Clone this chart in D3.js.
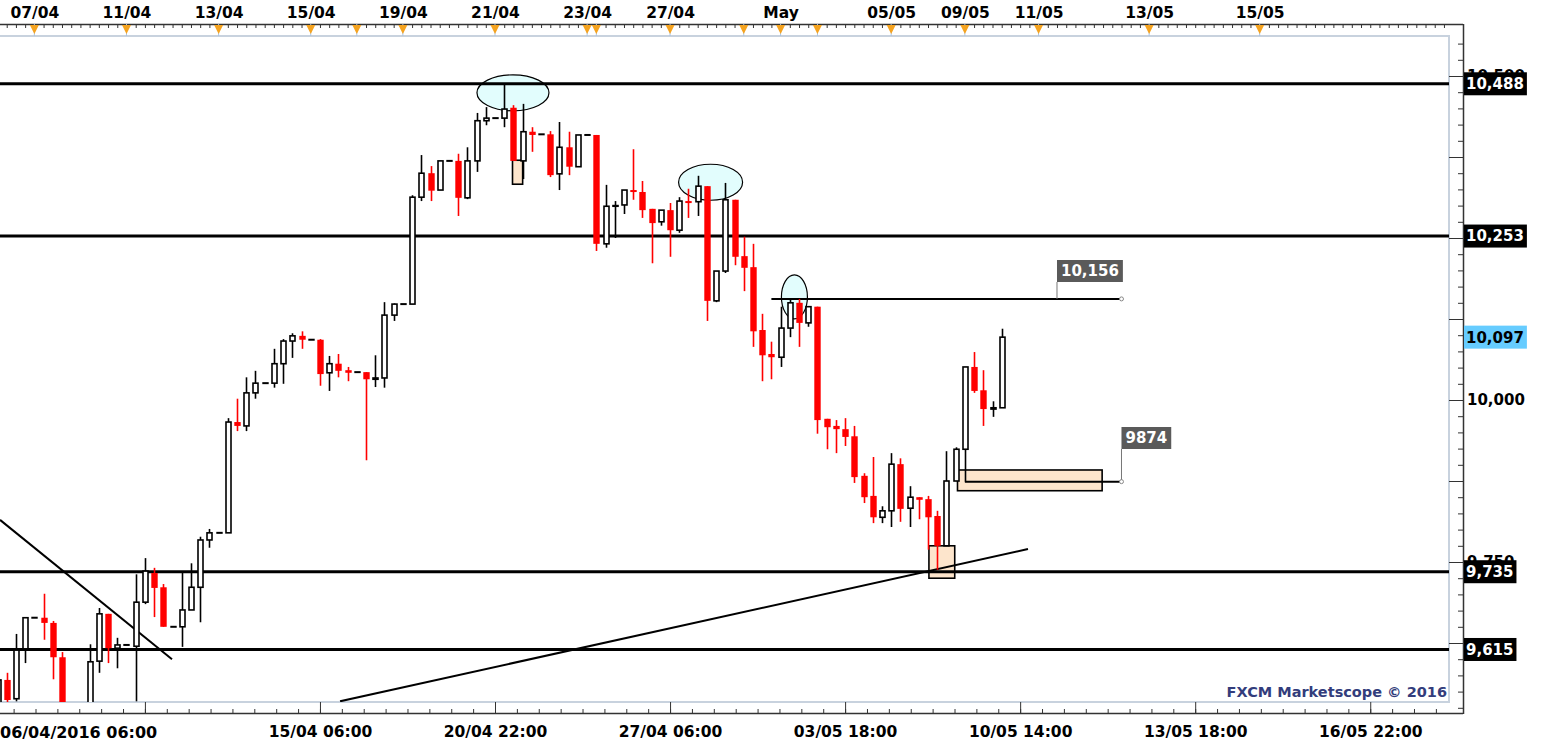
<!DOCTYPE html>
<html><head><meta charset="utf-8">
<script src="https://cdn.jsdelivr.net/npm/d3@7"></script>
<style>body{margin:0;background:#fff;overflow:hidden}svg{display:block}</style>
</head><body><svg id="c" width="1545" height="747"></svg>
<script>
// ---- data (candle index, OHLC) ----
const opens  = [9515,9568,9539,9616,9664,9664,9656,9603,9520,9500,9515,9597,9670,9617,9622,9620,9688,9733,9711,9650,9650,9676,9711,9784,9795,9795,9966,9960,10011,10026,10026,10056,10091,10099,10093,10093,10042,10056,10046,10043,10043,10032,10034,10131,10148,10148,10313,10350,10324,10369,10369,10312,10369,10431,10435,10435,10451,10369,10414,10410,10410,10349,10390,10360,10409,10409,10241,10299,10301,10324,10321,10295,10275,10293,10262,10307,10306,10330,10153,10199,10309,10222,10205,10108,10071,10066,10111,10150,10119,10144,9971,9960,9955,9944,9883,9852,9819,9829,9901,9833,9850,9847,9821,9775,9875,9924,10051,10015,9986,9988];
const highs  = [9570,9579,9639,9664,9664,9701,9659,9611,9530,9525,9623,9679,9670,9633,9622,9731,9756,9741,9716,9650,9733,9748,9789,9801,9795,9972,10002,10035,10045,10026,10079,10094,10103,10106,10093,10094,10068,10071,10051,10043,10043,10069,10151,10149,10148,10316,10378,10361,10369,10369,10380,10390,10443,10452,10435,10488,10455,10457,10421,10410,10415,10429,10414,10409,10409,10409,10332,10307,10324,10387,10338,10295,10293,10304,10313,10326,10346,10330,10199,10335,10309,10252,10241,10133,10090,10144,10156,10156,10144,10144,9971,9969,9972,9960,9887,9912,9836,9918,9910,9867,9850,9852,9829,9921,9927,10051,10074,10046,9998,10110];
const lows   = [9505,9534,9535,9594,9664,9630,9569,9505,9480,9470,9508,9579,9594,9586,9622,9535,9685,9665,9650,9650,9619,9676,9657,9772,9795,9795,9952,9952,10002,10026,10019,10025,10065,10079,10093,10022,10014,10035,10029,10043,9907,10020,10019,10122,10148,10148,10307,10307,10324,10369,10284,10310,10352,10424,10435,10421,10369,10341,10383,10410,10344,10324,10347,10360,10409,10230,10235,10250,10287,10309,10281,10211,10269,10221,10258,10281,10284,10122,10151,10196,10208,10168,10082,10029,10032,10051,10097,10082,10113,9948,9924,9918,9929,9872,9841,9810,9810,9804,9812,9804,9816,9769,9738,9775,9875,9874,10011,9960,9974,9988];
const closes = [9568,9537,9614,9664,9664,9656,9603,9520,9500,9515,9596,9670,9617,9622,9622,9688,9736,9710,9650,9650,9676,9711,9784,9795,9795,9966,9960,10011,10026,10026,10056,10091,10099,10093,10093,10040,10056,10045,10042,10043,10032,10034,10131,10148,10148,10313,10350,10323,10369,10369,10312,10369,10431,10435,10435,10449,10369,10414,10409,10410,10347,10390,10360,10409,10409,10241,10299,10300,10324,10321,10293,10273,10293,10262,10307,10306,10330,10153,10199,10309,10221,10204,10106,10069,10066,10111,10150,10119,10144,9969,9958,9955,9943,9881,9850,9819,9829,9901,9832,9850,9846,9819,9775,9875,9924,10051,10014,9986,9988,10097];

const levels = [10488,10253,9735,9615];
const lastPrice = 10097;

const topTickIdx    = [4,14,24,34,39,44,54,64,65,73,81,85,89,97,105,113,125,137];
const topLabelIdx   = [4,14,24,34,44,54,64,73,85,97,105,113,125,137];
const topLabels     = ["07/04","11/04","13/04","15/04","19/04","21/04","23/04","27/04","May","05/05","09/05","11/05","13/05","15/05"];
const bottomLabelIdx= [35,54,73,92,111,130,149];
const bottomLabels  = ["15/04 06:00","20/04 22:00","27/04 06:00","03/05 18:00","10/05 14:00","13/05 18:00","16/05 22:00"];
const firstBottomLabel = "06/04/2016 06:00";
const yLabelValues  = [9750,10000,10250,10500];

// annotations (index / price space)
const ellipses = [{i:55.95,v:10474,rx:36,ry:18},{i:77.4,v:10336,rx:32,ry:18},{i:86.5,v:10159,rx:13,ry:22}];
const zones = [{i0:55.9,i1:57.0,v0:10370,v1:10333},{i0:101.1,i1:103.9,v0:9775,v1:9725},{i0:104.2,i1:119.9,v0:9892,v1:9860}];
const trendLines = [{i0:0.27,v0:9815,i1:18.94,v1:9600},{i0:37.18,v0:9535,i1:111.85,v1:9770}];
const markLines = [{v:10156,i0:84,i1:122,tagI:115,label:"10,156",boxTop:260},{v:9874,i0:105,i1:122,tagI:122,label:"9874",boxTop:427}];

// ---- scales ----
const svg = d3.select("#c");
const P = {l:0, r:1449, t:36, b:702};
const x = d3.scaleLinear().domain([0,100]).range([-2.5,918.8]);
const y = d3.scaleLinear().domain([9500,10550]).range([724,43.6]);
const FONT = "'DejaVu Sans', Verdana, sans-serif";

svg.append("defs").append("clipPath").attr("id","clip")
  .append("rect").attr("x",P.l).attr("y",P.t).attr("width",P.r-P.l).attr("height",P.b-P.t);

// plot frame
svg.append("rect").attr("x",-2).attr("y",P.t).attr("width",P.r+2).attr("height",P.b-P.t)
  .attr("fill","#fff").attr("stroke","#c8d2de").attr("stroke-width",2);

const plot = svg.append("g").attr("clip-path","url(#clip)");

// ellipses
plot.selectAll(".ell").data(ellipses).join("ellipse")
  .attr("cx",d=>x(d.i)).attr("cy",d=>y(d.v)).attr("rx",d=>d.rx).attr("ry",d=>d.ry)
  .attr("fill","#e2fdfd").attr("stroke","#000").attr("stroke-width",1.2);

// zones
plot.selectAll(".zone").data(zones).join("rect")
  .attr("x",d=>x(d.i0)).attr("y",d=>y(d.v0)).attr("width",d=>x(d.i1)-x(d.i0)).attr("height",d=>y(d.v1)-y(d.v0))
  .attr("fill","#fde5cc").attr("stroke","#000").attr("stroke-width",1.6);

// horizontal levels
plot.selectAll(".lvl").data(levels).join("line")
  .attr("x1",P.l).attr("x2",P.r).attr("y1",d=>y(d)).attr("y2",d=>y(d))
  .attr("stroke","#000").attr("stroke-width",3);

// trend lines
plot.selectAll(".tl").data(trendLines).join("line")
  .attr("x1",d=>x(d.i0)).attr("y1",d=>y(d.v0)).attr("x2",d=>x(d.i1)).attr("y2",d=>y(d.v1))
  .attr("stroke","#000").attr("stroke-width",2);

// mark lines
markLines.forEach(m=>{
  plot.append("line").attr("x1",x(m.i0)).attr("x2",x(m.i1)).attr("y1",y(m.v)).attr("y2",y(m.v))
    .attr("stroke","#000").attr("stroke-width",2);
});

// candles
const candles = opens.map((o,i)=>({i,o,h:highs[i],l:lows[i],c:closes[i]}));
const bw = 5;
const cg = plot.append("g");
candles.forEach(d=>{
  const cx = Math.round(x(d.i))+0.5;
  const flat = d.o===d.h && d.o===d.l && d.o===d.c;
  if (flat){
    cg.append("line").attr("x1",cx-3.2).attr("x2",cx+3.2).attr("y1",y(d.o)).attr("y2",y(d.o))
      .attr("stroke","#000").attr("stroke-width",2);
    return;
  }
  const bull = d.c>=d.o;
  const col = bull?"#000":"#ff0000";
  cg.append("line").attr("x1",cx).attr("x2",cx).attr("y1",y(d.h)).attr("y2",y(d.l))
    .attr("stroke",col).attr("stroke-width",1.6);
  const top = y(Math.max(d.o,d.c)), bot = y(Math.min(d.o,d.c));
  if (bull){
    cg.append("rect").attr("x",cx-bw/2).attr("y",top).attr("width",bw).attr("height",Math.max(0.6,bot-top))
      .attr("fill","#fff").attr("stroke","#000").attr("stroke-width",1.6);
  } else {
    cg.append("rect").attr("x",cx-3.2).attr("y",top).attr("width",6.4).attr("height",Math.max(2,bot-top))
      .attr("fill","#ff0000");
  }
});

// mark line tags
markLines.forEach(m=>{
  const tx = x(m.tagI);
  plot.append("line").attr("x1",tx).attr("x2",tx).attr("y1",m.boxTop+22).attr("y2",y(m.v))
    .attr("stroke","#777").attr("stroke-width",1);
  plot.append("circle").attr("cx",x(m.i1)).attr("cy",y(m.v)).attr("r",2).attr("fill","#fff").attr("stroke","#888");
  const t = plot.append("text").attr("x",tx+4).attr("y",m.boxTop+11).attr("dominant-baseline","central")
    .attr("font-family",FONT).attr("font-weight","bold").attr("font-size",15).attr("fill","#fff").text(m.label);
  const w = t.node().getComputedTextLength();
  plot.insert("rect","text").attr("x",tx).attr("y",m.boxTop).attr("width",w+8).attr("height",22).attr("fill","#5a5a5a");
});

// watermark
svg.append("text").attr("x",1447).attr("y",697).attr("text-anchor","end")
  .attr("font-family",FONT).attr("font-weight","bold").attr("font-size",14.5).attr("fill","#333d7c")
  .text("FXCM Marketscope \u00a9 2016");

// ---- right axis ----
svg.append("line").attr("x1",1463.5).attr("x2",1463.5).attr("y1",24).attr("y2",714).attr("stroke","#333").attr("stroke-width",1.5);
const yMinorVals = d3.range(9525,10551,25).filter(v=>y(v)>P.t&&y(v)<P.b+6);
const yMajorVals = d3.range(9500,10551,125).filter(v=>y(v)>P.t&&y(v)<P.b+6);
svg.append("g").attr("transform","translate(1463,0)").attr("color","#333")
  .call(d3.axisLeft(y).tickValues(yMinorVals).tickSize(5).tickFormat(""))
  .call(g=>g.select(".domain").remove());
svg.append("g").attr("transform","translate(1463,0)").attr("color","#333")
  .call(d3.axisLeft(y).tickValues(yMajorVals).tickSize(14).tickFormat(""))
  .call(g=>g.select(".domain").remove());
svg.append("g").attr("transform","translate(1463,0)")
  .call(d3.axisRight(y).tickValues(yLabelValues).tickSize(0).tickPadding(4).tickFormat(d3.format(",")))
  .call(g=>g.select(".domain").remove())
  .call(g=>g.selectAll("text").attr("font-family",FONT).attr("font-weight","bold").attr("font-size",15).attr("fill","#000"));

// level tags
function tag(v, bg, fg){
  const g = svg.append("g");
  const t = g.append("text").attr("x",1466).attr("y",y(v)).attr("dy","0.36em")
    .attr("font-family",FONT).attr("font-weight","bold").attr("font-size",15).attr("fill",fg).text(d3.format(",")(v));
  const w = t.node().getComputedTextLength();
  g.insert("rect","text").attr("x",1464).attr("y",y(v)-11.5).attr("width",w+5).attr("height",23).attr("fill",bg);
}
levels.forEach(v=>tag(v,"#000","#fff"));
tag(lastPrice,"#66ccff","#000");

// ---- bottom axis ----
svg.append("line").attr("x1",0).attr("x2",1463).attr("y1",713.5).attr("y2",713.5).attr("stroke","#333").attr("stroke-width",1.5);
const bMajor = d3.range(-3,158,19).filter(i=>x(i)>=0&&x(i)<=1463);
const bMinor = d3.range(-3,158,19/8).filter(i=>x(i)>=0&&x(i)<=1460);
svg.append("g").attr("transform","translate(0,713)").attr("color","#333")
  .call(d3.axisTop(x).tickValues(bMinor).tickSize(4).tickFormat(""))
  .call(g=>g.select(".domain").remove());
svg.append("g").attr("transform","translate(0,713)").attr("color","#333")
  .call(d3.axisTop(x).tickValues(bMajor).tickSize(11).tickFormat(""))
  .call(g=>g.select(".domain").remove());
svg.append("g").attr("transform","translate(0,713)")
  .call(d3.axisBottom(x).tickValues(bottomLabelIdx).tickSize(0).tickPadding(13).tickFormat((d,i)=>bottomLabels[i]))
  .call(g=>g.select(".domain").remove())
  .call(g=>g.selectAll("text").attr("font-family",FONT).attr("font-weight","bold").attr("font-size",15.5).attr("fill","#000"));
svg.append("text").attr("x",0).attr("y",738).attr("font-family",FONT).attr("font-weight","bold").attr("font-size",16).text(firstBottomLabel);

// ---- top axis ----
svg.append("line").attr("x1",0).attr("x2",1463).attr("y1",24.5).attr("y2",24.5).attr("stroke","#333").attr("stroke-width",1.5);
const tTicks = d3.range(0,158).filter(i=>x(i)>=0&&x(i)<=1449);
svg.append("g").attr("transform","translate(0,24)").attr("color","#333")
  .call(d3.axisBottom(x).tickValues(tTicks).tickSize(4).tickFormat(""))
  .call(g=>g.select(".domain").remove());
svg.selectAll(".stub").data(topTickIdx).join("line")
  .attr("x1",d=>x(d)).attr("x2",d=>x(d)).attr("y1",24).attr("y2",P.t)
  .attr("stroke","#a9c4e4").attr("stroke-width",1);
svg.selectAll(".tri").data(topTickIdx).join("path")
  .attr("d",d=>`M${x(d)-4.5},25 L${x(d)+4.5},25 L${x(d)},34 Z`).attr("fill","#f5a31f");
svg.append("g").attr("transform","translate(0,24)")
  .call(d3.axisTop(x).tickValues(topLabelIdx).tickSize(0).tickPadding(6).tickFormat((d,i)=>topLabels[i]))
  .call(g=>g.select(".domain").remove())
  .call(g=>g.selectAll("text").attr("font-family",FONT).attr("font-weight","bold").attr("font-size",15.5).attr("fill","#000"));
</script>
</body></html>
